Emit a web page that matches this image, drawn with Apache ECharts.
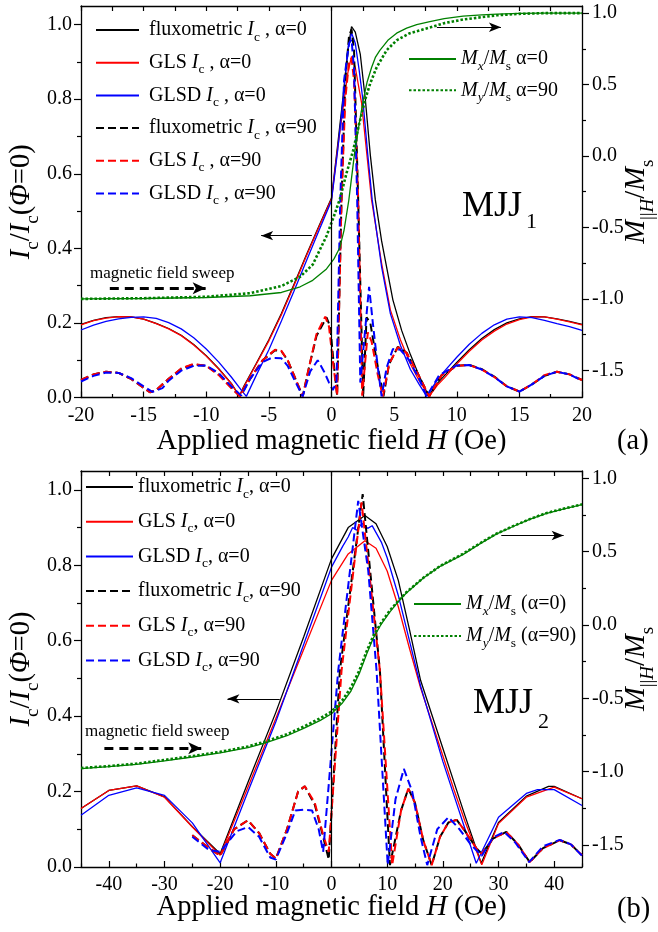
<!DOCTYPE html>
<html><head><meta charset="utf-8">
<script src="https://cdn.jsdelivr.net/npm/echarts@6/dist/echarts.min.js"></script>
<style>html,body{margin:0;padding:0;background:#fff}#c{width:658px;height:932px}</style>
</head><body><div id="c"></div>
<script>
// ---------- tick values ----------
const aXTicks = [-20,-15,-10,-5,0,5,10,15,20];
const aXMinor = [-17.5,-12.5,-7.5,-2.5,2.5,7.5,12.5,17.5];
const bXTicks = [-40,-30,-20,-10,0,10,20,30,40];
const bXMinor = [-45,-35,-25,-15,-5,5,15,25,35,45];
const leftTicks = [0,0.2,0.4,0.6,0.8,1.0];
const leftMinor = [0.1,0.3,0.5,0.7,0.9];
const rightTicks = [-1.5,-1.0,-0.5,0,0.5,1.0];
const rightMinor = [-1.25,-0.75,-0.25,0.25,0.75];

// ---------- panel (a) data ----------
const aFluxA0 = [[-20,0.196],[-19,0.207],[-18,0.214],[-17,0.217],[-16,0.216],[-15,0.21],[-14,0.199],[-13,0.185],[-12,0.167],[-11,0.142],[-10,0.112],[-9,0.077],[-8,0.038],[-7.35,0.004],[-7,0.03],[-6,0.092],[-5,0.155],[-4,0.225],[-3,0.303],[-2,0.383],[-1,0.46],[0,0.535],[0.5,0.68],[0.9,0.8],[1.3,0.93],[1.6,0.995],[1.9,0.98],[2.3,0.92],[2.7,0.8],[3.1,0.65],[3.5,0.53],[4,0.42],[4.9,0.262],[5.6,0.18],[6.3,0.115],[7,0.058],[7.75,0.004],[8.5,0.04],[9,0.058],[10,0.094],[11,0.128],[12,0.158],[13,0.182],[14,0.2],[15,0.211],[16,0.217],[17,0.216],[18,0.211],[19,0.204],[20,0.196]];
const aGlsA0 = [[-20,0.195],[-19,0.206],[-18,0.213],[-17,0.217],[-16,0.216],[-15,0.21],[-14,0.198],[-13,0.184],[-12,0.166],[-11,0.141],[-10,0.111],[-9,0.076],[-8,0.037],[-7.37,0.003],[-7,0.028],[-6,0.09],[-5,0.152],[-4,0.222],[-3,0.3],[-2,0.38],[-1,0.457],[0,0.532],[0.5,0.67],[0.9,0.77],[1.3,0.87],[1.6,0.915],[1.9,0.885],[2.4,0.79],[2.8,0.66],[3.2,0.53],[4,0.36],[4.7,0.235],[5.5,0.155],[6.3,0.09],[7,0.045],[7.8,0.003],[8.5,0.035],[9,0.052],[10,0.09],[11,0.124],[12,0.154],[13,0.178],[14,0.197],[15,0.209],[16,0.216],[17,0.216],[18,0.21],[19,0.203],[20,0.195]];
const aGlsdA0 = [[-20,0.181],[-19,0.194],[-18,0.204],[-17,0.211],[-16,0.215],[-15,0.216],[-14,0.212],[-13,0.201],[-12,0.184],[-11,0.16],[-10,0.13],[-9,0.095],[-8,0.055],[-7.2,0.02],[-6.8,0.003],[-6,0.06],[-5,0.128],[-4,0.205],[-3,0.285],[-2,0.367],[-1,0.448],[0,0.528],[0.5,0.665],[0.9,0.79],[1.3,0.93],[1.6,0.978],[1.9,0.95],[2.2,0.88],[2.5,0.8],[2.9,0.65],[3.25,0.53],[4,0.35],[4.7,0.225],[5.5,0.14],[6.3,0.075],[7,0.035],[7.6,0.003],[8.3,0.04],[9,0.07],[10,0.108],[11,0.143],[12,0.172],[13,0.195],[14,0.21],[15,0.216],[16,0.214],[17,0.207],[18,0.198],[19,0.19],[20,0.18]];
const aFluxA90 = [[-20,0.047],[-19,0.062],[-18,0.069],[-17,0.066],[-16,0.05],[-15,0.026],[-14.5,0.014],[-14,0.02],[-13,0.05],[-12,0.077],[-11,0.089],[-10,0.085],[-9,0.062],[-8,0.027],[-7.3,0.003],[-6.5,0.05],[-5.5,0.1],[-4.5,0.127],[-4,0.124],[-3.5,0.1],[-3,0.06],[-2.3,0.003],[-1.8,0.08],[-1.2,0.165],[-0.4,0.215],[-0.1,0.19],[0.15,0.1],[0.45,0.005],[0.8,0.53],[1.1,0.85],[1.4,0.97],[1.6,0.987],[1.8,0.93],[2.13,0.53],[2.53,0.005],[2.8,0.215],[3.1,0.2],[3.6,0.1],[4.15,0.003],[4.6,0.09],[5.3,0.136],[6,0.12],[6.8,0.07],[7.8,0.003],[8.8,0.06],[10,0.085],[11,0.087],[12,0.076],[13,0.056],[14,0.03],[15,0.016],[16,0.035],[17,0.058],[18,0.069],[19,0.062],[20,0.047]];
const aGlsA90 = [[-20,0.047],[-19,0.062],[-18,0.069],[-17,0.066],[-16,0.05],[-15,0.026],[-14.5,0.014],[-14,0.02],[-13,0.05],[-12,0.078],[-11,0.09],[-10,0.085],[-9,0.06],[-8,0.025],[-7.3,0.003],[-6.5,0.05],[-5.5,0.1],[-4.5,0.128],[-4,0.125],[-3.5,0.1],[-3,0.06],[-2.3,0.003],[-1.8,0.08],[-1.2,0.17],[-0.5,0.217],[-0.2,0.19],[0.1,0.1],[0.45,0.005],[0.8,0.53],[1.1,0.8],[1.4,0.9],[1.6,0.91],[1.8,0.85],[2.13,0.53],[2.45,0.005],[2.9,0.175],[3.2,0.15],[3.7,0.06],[4.1,0.003],[4.6,0.09],[5.3,0.135],[6,0.12],[6.8,0.07],[7.8,0.003],[8.8,0.06],[10,0.085],[11,0.087],[12,0.075],[13,0.055],[14,0.03],[15,0.016],[16,0.035],[17,0.06],[18,0.069],[19,0.062],[20,0.047]];
const aGlsdA90 = [[-20,0.043],[-19,0.058],[-18,0.067],[-17,0.066],[-16,0.052],[-15,0.03],[-14.3,0.015],[-13.5,0.025],[-13,0.045],[-12,0.072],[-11,0.085],[-10,0.086],[-9,0.065],[-8,0.03],[-7.2,0.005],[-6.5,0.05],[-5.5,0.095],[-4.8,0.106],[-4,0.105],[-3.5,0.085],[-3,0.05],[-2.3,0.003],[-1.7,0.07],[-1.1,0.1],[-0.6,0.07],[-0.2,0.04],[0.1,0.02],[0.4,0.04],[0.7,0.53],[1.0,0.85],[1.4,0.95],[1.6,0.96],[1.8,0.88],[2.05,0.53],[2.3,0.04],[2.6,0.15],[3.0,0.297],[3.3,0.2],[3.7,0.08],[4.0,0.003],[4.4,0.08],[4.9,0.13],[5.5,0.128],[6.2,0.1],[7,0.05],[7.6,0.003],[8.6,0.06],[10,0.086],[11,0.087],[12,0.075],[13,0.055],[14,0.03],[15,0.016],[16,0.035],[17,0.058],[18,0.069],[19,0.062],[20,0.045]];
const aMx = [[-20,-1.0],[-15,-0.997],[-10,-0.99],[-6.5,-0.978],[-4,-0.955],[-2.5,-0.915],[-1.5,-0.87],[-0.4,-0.79],[0.2,-0.72],[0.67,-0.64],[1.0,-0.52],[1.38,-0.31],[1.87,0.04],[2.2,0.22],[2.53,0.39],[2.85,0.52],[3.2,0.62],[3.5,0.69],[3.86,0.74],[4.5,0.81],[5.2,0.86],[6,0.895],[6.8,0.92],[7.85,0.94],[9,0.962],[10.5,0.979],[12,0.988],[13.2,0.993],[15,0.998],[17,1.0],[20,1.0]];
const aMy = [[-20,-1.0],[-15,-0.995],[-10,-0.985],[-6.5,-0.96],[-4,-0.91],[-2.5,-0.845],[-1.5,-0.76],[-0.4,-0.56],[0.2,-0.42],[0.67,-0.3],[1.2,-0.12],[1.73,0.04],[2.2,0.22],[2.67,0.39],[3.1,0.51],[3.6,0.62],[4.4,0.74],[5.2,0.81],[6.26,0.86],[7.85,0.9],[9,0.93],[10.5,0.955],[12,0.972],[13.2,0.985],[15,0.995],[17,1.0],[20,1.0]];

// ---------- panel (b) data ----------
const bFluxA0 = [[-45,0.155],[-40,0.203],[-35,0.215],[-30,0.186],[-25,0.107],[-20,0.035],[-15,0.225],[-10,0.41],[-5,0.61],[0,0.817],[3,0.9],[6,0.932],[8,0.91],[10,0.85],[12,0.76],[14,0.63],[16,0.495],[18,0.405],[20,0.315],[22,0.225],[24,0.135],[26.9,0.01],[30,0.118],[35,0.188],[39,0.214],[40,0.214],[45,0.181]];
const bGlsA0 = [[-45,0.155],[-40,0.203],[-35,0.215],[-30,0.185],[-25,0.106],[-20,0.031],[-15,0.212],[-10,0.394],[-5,0.577],[0,0.76],[3,0.83],[6,0.865],[8,0.845],[10,0.785],[12,0.69],[14,0.58],[16,0.475],[18,0.385],[20,0.295],[22,0.205],[24,0.12],[27,0.006],[30,0.115],[35,0.185],[40,0.212],[45,0.181]];
const bGlsdA0 = [[-45,0.137],[-40,0.19],[-35,0.21],[-30,0.19],[-25,0.117],[-20,0.011],[-15,0.2],[-10,0.385],[-5,0.59],[0,0.795],[2,0.85],[3,0.875],[3.8,0.9],[4.5,0.893],[5.5,0.911],[6.5,0.898],[7.3,0.905],[9,0.86],[10,0.82],[12,0.72],[14,0.6],[16,0.48],[18,0.38],[20,0.28],[22,0.19],[24,0.1],[26,0.01],[30,0.132],[35,0.195],[37,0.205],[40,0.205],[45,0.163]];
const bFluxA90 = [[-25,0.084],[-22,0.05],[-20,0.03],[-17.5,0.1],[-15,0.124],[-13,0.09],[-11,0.035],[-10,0.022],[-8,0.1],[-6,0.2],[-4.8,0.214],[-3,0.165],[-1.5,0.08],[-0.5,0.02],[1.5,0.52],[5.6,0.989],[8.7,0.52],[10.5,0.005],[12.5,0.15],[13.8,0.208],[15,0.17],[16.5,0.07],[18,0.005],[19.5,0.08],[21,0.118],[22.5,0.125],[24,0.095],[26,0.05],[27,0.035],[29,0.075],[31.4,0.093],[33.5,0.06],[35.6,0.013],[38,0.05],[41,0.071],[43,0.06],[45,0.031]];
const bGlsA90 = [[-25,0.084],[-22,0.05],[-20,0.03],[-17.5,0.1],[-15,0.124],[-13,0.09],[-11,0.035],[-10,0.022],[-8,0.1],[-6,0.2],[-4.8,0.214],[-3,0.17],[-1.5,0.085],[-0.5,0.04],[1.8,0.52],[5.4,0.967],[8.7,0.52],[10.9,0.005],[12.5,0.15],[13.8,0.208],[15,0.17],[16.5,0.07],[18,0.005],[19.5,0.08],[21,0.118],[22.5,0.125],[24,0.095],[26,0.05],[27,0.035],[29,0.075],[31.4,0.093],[33.5,0.06],[35.6,0.013],[38,0.05],[41,0.071],[43,0.06],[45,0.031]];
const bGlsdA90 = [[-25,0.08],[-22,0.045],[-20,0.04],[-17,0.095],[-15,0.106],[-13,0.08],[-11,0.025],[-10,0.02],[-8,0.09],[-6.5,0.15],[-5,0.152],[-3.5,0.15],[-2.3,0.1],[-1.5,0.04],[1.2,0.52],[4.8,0.971],[6.6,0.786],[8.1,0.52],[10.1,0.005],[11.5,0.18],[13,0.26],[14.5,0.2],[16,0.08],[17.2,0.005],[19,0.1],[21,0.132],[23,0.1],[25,0.06],[27,0.03],[29,0.078],[31,0.093],[33,0.065],[35.5,0.013],[38,0.055],[41,0.072],[43,0.06],[45,0.03]];
const bMx = [[-45,-0.979],[-40,-0.966],[-35,-0.95],[-30,-0.926],[-25,-0.9],[-20,-0.872],[-15,-0.836],[-12,-0.805],[-8,-0.755],[-5,-0.705],[-2,-0.65],[0,-0.605],[2,-0.53],[3.5,-0.45],[5,-0.33],[6.3,-0.2],[7.5,-0.09],[9,0.01],[10.5,0.09],[12,0.16],[13.5,0.22],[16.5,0.32],[19.5,0.4],[23.6,0.48],[26.5,0.55],[29.6,0.62],[32.5,0.67],[35.6,0.72],[38.5,0.76],[41.6,0.79],[45,0.82]];
const bMy = [[-45,-0.975],[-40,-0.962],[-35,-0.945],[-30,-0.92],[-25,-0.894],[-20,-0.865],[-15,-0.828],[-12,-0.796],[-8,-0.745],[-5,-0.693],[-2,-0.635],[0,-0.59],[2,-0.51],[3.5,-0.425],[5,-0.31],[6.3,-0.18],[7.5,-0.075],[9,0.02],[10.5,0.1],[12,0.165],[13.5,0.225],[16.5,0.322],[19.5,0.402],[23.6,0.485],[26.5,0.553],[29.6,0.622],[32.5,0.672],[35.6,0.722],[38.5,0.762],[41.6,0.792],[45,0.823]];

// ---------- annotation arrows (data coordinates) ----------
const aArrows = [
  {from:[-17.7,0.293], to:[-10.05,0.293], kind:'sweep'},
  {from:[-1.57,0.434], to:[-5.62,0.434], kind:'thin'},
  {from:[8.41,0.993], to:[13.53,0.993], kind:'thin'}
];
const bArrows = [
  {from:[-40.8,0.315], to:[-23.4,0.315], kind:'sweep'},
  {from:[-9.3,0.446], to:[-18.7,0.446], kind:'thin'},
  {from:[30.5,0.879], to:[41.7,0.879], kind:'thin'}
];

// ---------- labels ----------
const LABELS = {
  a0:'fluxometric {i|I}{sub|c} , α=0', a1:'GLS {i|I}{sub|c} , α=0', a2:'GLSD {i|I}{sub|c} , α=0',
  a3:'fluxometric {i|I}{sub|c} , α=90', a4:'GLS {i|I}{sub|c} , α=90', a5:'GLSD {i|I}{sub|c} , α=90',
  a6:'{i|M}{isub|x}/{i|M}{sub|s} α=0', a7:'{i|M}{isub|y}/{i|M}{sub|s} α=90',
  b0:'fluxometric {i|I}{sub|c}, α=0', b1:'GLS {i|I}{sub|c}, α=0', b2:'GLSD {i|I}{sub|c}, α=0',
  b3:'fluxometric {i|I}{sub|c}, α=90', b4:'GLS {i|I}{sub|c}, α=90', b5:'GLSD {i|I}{sub|c}, α=90',
  b6:'{i|M}{isub|x}/{i|M}{sub|s} (α=0)', b7:'{i|M}{isub|y}/{i|M}{sub|s} (α=90)'
};

const FONT = 'Liberation Serif';
const BLACK = '#000000', RED = '#ff0000', BLUE = '#0000ff', GREEN = '#008000';

const nameRich = {
  n:{fontFamily:FONT, fontSize:28.5, lineHeight:30, color:'#000'},
  i:{fontFamily:FONT, fontSize:28.5, fontStyle:'italic', lineHeight:30, color:'#000'},
  sub:{fontFamily:FONT, fontSize:19, lineHeight:30, padding:[22,0,0,0], color:'#000'},
  isub:{fontFamily:FONT, fontSize:19, fontStyle:'italic', lineHeight:30, padding:[22,0,0,0], color:'#000'}
};
const legendRich = {
  i:{fontFamily:FONT, fontSize:20, fontStyle:'italic', lineHeight:20, color:'#000'},
  sub:{fontFamily:FONT, fontSize:13.5, lineHeight:20, padding:[14,0,0,0], color:'#000'},
  isub:{fontFamily:FONT, fontSize:13.5, fontStyle:'italic', lineHeight:20, padding:[14,0,0,0], color:'#000'}
};

const lineS = {color:'#000', width:1.3};
const tickS = {color:'#000', width:1.2};

function xAxes(grid, min, max, major, minor, nameGap) {
  return [
    {type:'value', gridIndex:grid, position:'bottom', min, max,
     axisLine:{show:true, onZero:false, lineStyle:lineS},
     axisTick:{show:true, inside:true, length:6, customValues:major, lineStyle:tickS},
     axisLabel:{show:true, customValues:major, margin:8, color:'#000', fontFamily:FONT, fontSize:20, formatter:v=>String(v)},
     splitLine:{show:false},
     name:'{n|Applied magnetic field }{i|H}{n| (Oe)}', nameLocation:'middle', nameGap, nameMoveOverlap:false,
     nameTextStyle:{rich:nameRich}},
    {type:'value', gridIndex:grid, position:'bottom', min, max,
     axisLine:{show:false, onZero:false},
     axisTick:{show:true, inside:true, length:3.5, customValues:minor, lineStyle:tickS},
     axisLabel:{show:false}, splitLine:{show:false}},
    {type:'value', gridIndex:grid, position:'top', min, max,
     axisLine:{show:true, onZero:false, lineStyle:lineS},
     axisTick:{show:true, inside:true, length:5, customValues:major.concat(minor), lineStyle:tickS},
     axisLabel:{show:false}, splitLine:{show:false}}
  ];
}
function yAxes(grid, rmin) {
  return [
    {type:'value', gridIndex:grid, position:'left', min:0, max:1.05,
     axisLine:{show:true, onZero:false, lineStyle:lineS},
     axisTick:{show:true, inside:false, length:7, customValues:leftTicks, lineStyle:tickS},
     axisLabel:{show:true, customValues:leftTicks, margin:9, color:'#000', fontFamily:FONT, fontSize:20, formatter:v=>v.toFixed(1)},
     splitLine:{show:false},
     name:'{i|I}{sub|c}{n|/}{i|I}{sub|c}{n|(}{i|Φ}{n|=0)}', nameLocation:'middle', nameRotate:90, nameGap:44, nameMoveOverlap:false,
     nameTextStyle:{rich:nameRich}},
    {type:'value', gridIndex:grid, position:'left', min:0, max:1.05,
     axisLine:{show:false, onZero:false},
     axisTick:{show:true, inside:false, length:4, customValues:leftMinor, lineStyle:tickS},
     axisLabel:{show:false}, splitLine:{show:false}},
    {type:'value', gridIndex:grid, position:'right', min:rmin, max:1.05,
     axisLine:{show:true, onZero:false, lineStyle:lineS},
     axisTick:{show:true, inside:false, length:7, customValues:rightTicks, lineStyle:tickS},
     axisLabel:{show:true, customValues:rightTicks, margin:10, color:'#000', fontFamily:FONT, fontSize:20, formatter:v=>v.toFixed(1)},
     splitLine:{show:false},
     name:'{i|M}{sub|||}{isub|H}{n|/}{i|M}{sub|s}', nameLocation:'middle', nameRotate:90, nameGap:40, nameMoveOverlap:false,
     nameTextStyle:{rich:nameRich}},
    {type:'value', gridIndex:grid, position:'right', min:rmin, max:1.05,
     axisLine:{show:false, onZero:false},
     axisTick:{show:true, inside:false, length:4, customValues:rightMinor, lineStyle:tickS},
     axisLabel:{show:false}, splitLine:{show:false}}
  ];
}

function marks(arrows) {
  const items = [{xAxis:0, lineStyle:{color:'#000', width:1.2, type:'solid'}}];
  arrows.forEach(a => {
    const sweep = a.kind === 'sweep';
    items.push([
      {coord:a.from, lineStyle:{color:'#000', width: sweep ? 3 : 1.2, type: sweep ? [9,6] : 'solid'}},
      {coord:a.to, symbol:'arrow', symbolSize: sweep ? [9,13] : [7,12]}
    ]);
  });
  return {silent:true, animation:false, symbol:['none','none'], label:{show:false}, data:items};
}

function ser(name, data, color, style, xi, yi, ml) {
  const ls = {color, width:1.3, type:'solid'};
  if (style === 'dash') { ls.width = 2; ls.type = [8,4]; }
  if (style === 'dot') { ls.width = 2.6; ls.type = [2.5,2]; }
  const s = {name, type:'line', data, xAxisIndex:xi, yAxisIndex:yi, symbol:'none', showSymbol:false,
    animation:false, lineStyle:ls, itemStyle:{color}, emphasis:{disabled:true}, silent:true};
  if (ml) s.markLine = ml;
  return s;
}

function legendBox(names, left, top, gap, width, lead) {
  return {show:true, orient:'vertical', left, top, padding:0, itemGap:gap, itemWidth:width, itemHeight:14,
    data:names, selectedMode:false, formatter:n => (lead ? ' ' : '') + LABELS[n],
    itemStyle:{opacity:0, borderWidth:0},
    textStyle:{fontFamily:FONT, fontSize:20, color:'#000', lineHeight:20, rich:legendRich}};
}

const series = [
  ser('a0', aFluxA0, BLACK, 'solid', 0, 0, marks(aArrows)),
  ser('a1', aGlsA0, RED, 'solid', 0, 0),
  ser('a2', aGlsdA0, BLUE, 'solid', 0, 0),
  ser('a3', aFluxA90, BLACK, 'dash', 0, 0),
  ser('a4', aGlsA90, RED, 'dash', 0, 0),
  ser('a5', aGlsdA90, BLUE, 'dash', 0, 0),
  ser('a6', aMx, GREEN, 'solid', 0, 2),
  ser('a7', aMy, GREEN, 'dot', 0, 2),
  ser('b0', bFluxA0, BLACK, 'solid', 3, 4, marks(bArrows)),
  ser('b1', bGlsA0, RED, 'solid', 3, 4),
  ser('b2', bGlsdA0, BLUE, 'solid', 3, 4),
  ser('b3', bFluxA90, BLACK, 'dash', 3, 4),
  ser('b4', bGlsA90, RED, 'dash', 3, 4),
  ser('b5', bGlsdA90, BLUE, 'dash', 3, 4),
  ser('b6', bMx, GREEN, 'solid', 3, 6),
  ser('b7', bMy, GREEN, 'dot', 3, 6)
];

const txt = (text, left, top, size) => ({type:'text', left, top, z:100, silent:true,
  style:{text, fill:'#000', font: size + 'px "' + FONT + '"'}});

const option = {
  animation:false,
  backgroundColor:'#ffffff',
  grid:[
    {left:81, right:76, top:6, height:391.5, outerBoundsMode:'none', containLabel:false},
    {left:81, right:76, top:471, height:396, outerBoundsMode:'none', containLabel:false}
  ],
  xAxis: xAxes(0, -20, 20, aXTicks, aXMinor, 29).concat(xAxes(1, -45, 45, bXTicks, bXMinor, 26)),
  yAxis: yAxes(0, -1.69).concat(yAxes(1, -1.65)),
  legend:[
    legendBox(['a0','a1','a2','a3','a4','a5'], 95, 16, 4.7, 43, true),
    legendBox(['a6','a7'], 408, 45, 3.3, 47, false),
    legendBox(['b0','b1','b2','b3','b4','b5'], 85, 473, 6.7, 47, false),
    legendBox(['b6','b7'], 413, 590, 4.0, 47, false)
  ],
  series,
  graphic:[
    txt('magnetic field sweep', 90, 265, 17),
    txt('magnetic field sweep', 85, 723, 17),
    txt('MJJ', 462, 189, 36),
    txt('1', 526, 211, 22),
    txt('MJJ', 473, 686, 36),
    txt('2', 538, 711, 22),
    txt('(a)', 617, 427, 28.5),
    txt('(b)', 617, 895, 28.5)
  ]
};

const chart = echarts.init(document.getElementById('c'), null, {renderer:'canvas'});
chart.setOption(option);
</script></body></html>
